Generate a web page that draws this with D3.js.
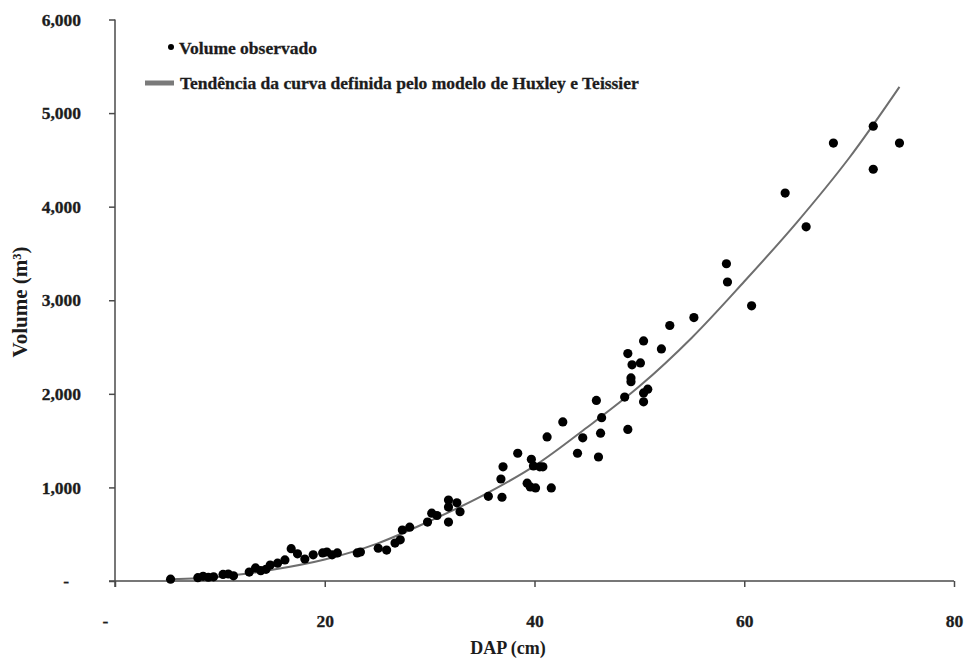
<!DOCTYPE html>
<html>
<head>
<meta charset="utf-8">
<script src="https://cdn.jsdelivr.net/npm/d3@7"></script>
<style>
  html, body { margin: 0; padding: 0; background: #fff; }
  svg { display: block; }
  text { font-family: "Liberation Serif", "Times New Roman", serif; font-weight: bold; fill: #1c1c1c; }
</style>
</head>
<body>
<svg id="chart" width="965" height="660"></svg>
<script>
// Observed points: DAP (cm) and Volume
const obsDAP = [5.3, 7.9, 8.4, 8.9, 9.4, 10.3, 10.8, 11.3, 12.8, 13.4, 13.9, 14.4,
  14.8, 15.5, 16.2, 16.8, 17.4, 18.1, 18.9, 19.8, 20.2, 20.7, 21.2, 23.1, 23.4,
  25.1, 25.9, 26.7, 27.2, 27.4, 28.1, 29.8, 30.2, 30.7, 31.8, 31.8, 31.8, 32.6, 32.9,
  35.6, 36.9, 36.8, 37.0, 38.4, 39.3, 39.6, 39.7, 40.1, 39.9, 40.5, 40.8, 41.2, 41.6,
  42.7, 44.1, 44.6, 45.9, 46.3, 46.1, 46.4, 48.6, 48.9, 48.9, 49.3, 49.2, 49.2,
  50.1, 50.4, 50.4, 50.4, 50.8, 52.1, 52.9, 55.2, 58.3, 58.4, 60.7,
  63.9, 65.9, 68.5, 72.3, 72.3, 74.8];
const obsVol = [20, 35, 50, 40, 45, 70, 75, 55, 95, 140, 110, 125,
  170, 190, 225, 345, 290, 235, 280, 300, 310, 280, 300, 300, 310,
  350, 330, 405, 440, 545, 575, 630, 725, 700, 865, 790, 630, 835, 740,
  905, 895, 1090, 1220, 1365, 1045, 1005, 1300, 995, 1230, 1220, 1220, 1540, 995,
  1700, 1365, 1530, 1930, 1580, 1325, 1745, 1965, 1620, 2430, 2310, 2170, 2130,
  2330, 2565, 2010, 1915, 2050, 2480, 2730, 2815, 3390, 3195, 2940,
  4145, 3785, 4680, 4860, 4400, 4680];

// Trend curve (Huxley & Teissier model)
const curveDAP = [5.3, 10, 15, 20, 25, 30, 35, 40, 45, 50, 55, 60, 65, 70, 74.8];
const curveVol = [18, 45, 120, 230, 400, 640, 910, 1230, 1640, 2080, 2600, 3200, 3830, 4520, 5280];

const xTicks = [0, 20, 40, 60, 80];
const xTickLabels = ["-", "20", "40", "60", "80"];
const yTicks = [0, 1000, 2000, 3000, 4000, 5000, 6000];
const yTickLabels = ["-", "1,000", "2,000", "3,000", "4,000", "5,000", "6,000"];

const legendLabels = ["Volume observado", "Tendência da curva definida pelo modelo de Huxley e Teissier"];
const xTitle = "DAP (cm)";
const yTitle = "Volume (m³)";

const svg = d3.select("#chart");
const x = d3.scaleLinear().domain([0, 80]).range([115, 954]);
const y = d3.scaleLinear().domain([0, 6000]).range([581, 19.5]);

const axisColor = "#4a4a4a";

function styleTickText(sel) {
  sel.style("font-size", "17.5px").attr("fill", "#1c1c1c")
    .style("font-family", "'Liberation Serif', serif").style("font-weight", "bold")
    .attr("stroke", "#1c1c1c").attr("stroke-width", 0.3);
}

// X axis
const xAxis = svg.append("g").attr("transform", `translate(0,${y(0)})`)
  .call(d3.axisBottom(x).tickValues(xTicks).tickSize(6).tickPadding(28)
    .tickFormat((d, i) => xTickLabels[i]));
xAxis.select(".domain").attr("stroke", axisColor).attr("stroke-width", 1.5)
  .attr("d", `M${x(0) - 6},0H${x(80)}`);
xAxis.selectAll(".tick line").attr("stroke", axisColor).attr("stroke-width", 1.5);
styleTickText(xAxis.selectAll(".tick text"));
xAxis.selectAll(".tick").filter(d => d === 0).select("text").attr("dx", -10);

// Y axis
const yAxis = svg.append("g").attr("transform", `translate(${x(0)},0)`)
  .call(d3.axisLeft(y).tickValues(yTicks).tickSize(6).tickPadding(28)
    .tickFormat((d, i) => yTickLabels[i]));
yAxis.select(".domain").attr("stroke", axisColor).attr("stroke-width", 1.5)
  .attr("d", `M0,${y(6000)}V${y(0) + 6}`);
yAxis.selectAll(".tick line").attr("stroke", axisColor).attr("stroke-width", 1.5);
styleTickText(yAxis.selectAll(".tick text"));
yAxis.selectAll(".tick").filter(d => d === 0).select("text").attr("dx", -12);

// Trend curve
const curveData = curveDAP.map((d, i) => [d, curveVol[i]]);
svg.append("path").datum(curveData)
  .attr("fill", "none").attr("stroke", "#6e6e6e").attr("stroke-width", 2)
  .attr("d", d3.line().x(d => x(d[0])).y(d => y(d[1])).curve(d3.curveCatmullRom));

// Points
const pts = obsDAP.map((d, i) => [d, obsVol[i]]);
svg.append("g").selectAll("circle").data(pts).join("circle")
  .attr("cx", d => x(d[0])).attr("cy", d => y(d[1])).attr("r", 4.6)
  .attr("fill", "#000");

// Legend
svg.append("circle").attr("cx", 171).attr("cy", 47).attr("r", 3).attr("fill", "#000");
svg.append("text").attr("x", 179).attr("y", 54).style("font-size", "17.5px")
  .attr("stroke", "#1c1c1c").attr("stroke-width", 0.3).text(legendLabels[0]);
svg.append("line").attr("x1", 145).attr("x2", 174).attr("y1", 83).attr("y2", 83)
  .attr("stroke", "#7a7a7a").attr("stroke-width", 5);
svg.append("text").attr("x", 180).attr("y", 89).style("font-size", "17.5px")
  .attr("stroke", "#1c1c1c").attr("stroke-width", 0.3).text(legendLabels[1]);

// Axis titles
svg.append("text").attr("x", 508).attr("y", 654).attr("text-anchor", "middle")
  .style("font-size", "18px").attr("fill", "#333").text(xTitle);
svg.append("text").attr("transform", "translate(27,302) rotate(-90)").attr("text-anchor", "middle")
  .style("font-size", "21px").attr("fill", "#333").text(yTitle);
</script>
</body>
</html>
